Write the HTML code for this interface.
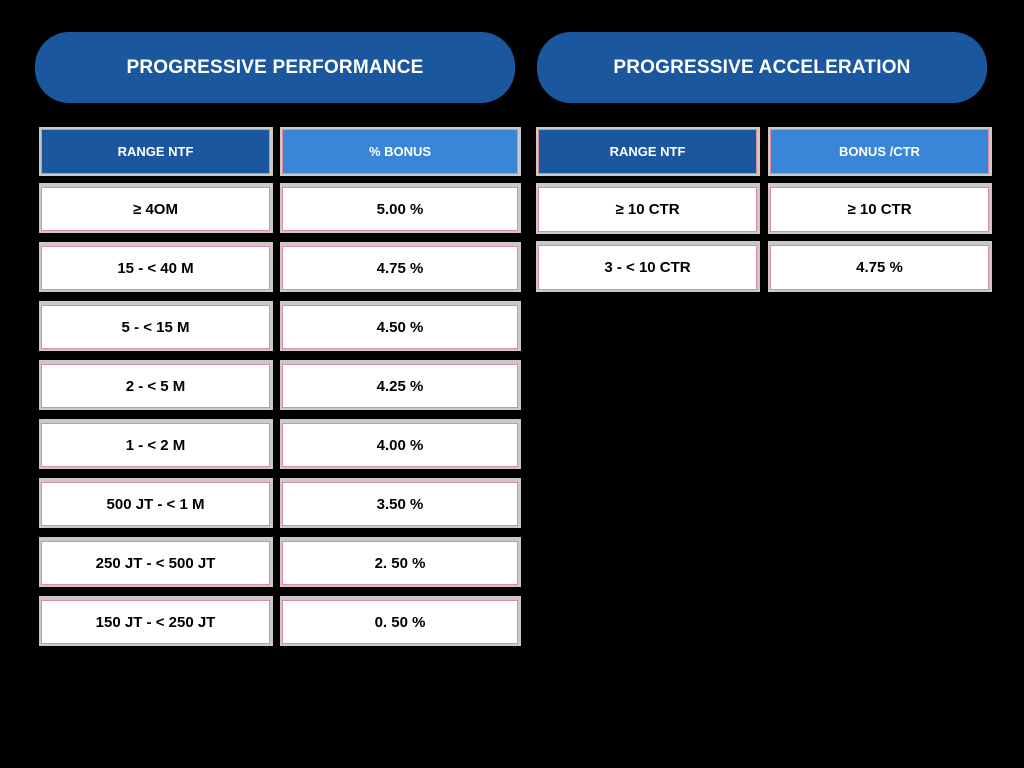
<!DOCTYPE html>
<html><head><meta charset="utf-8"><style>
body{margin:0;width:1024px;height:768px;background:#000;position:relative;overflow:hidden;font-family:"Liberation Sans",sans-serif;}
.pill{position:absolute;background:#1b579f;border-radius:34px;color:#fff;font-weight:bold;font-size:19px;display:flex;align-items:center;justify-content:center;letter-spacing:0.2px;}
.cell{position:absolute;background:#c9c9c9;}
.inner{position:absolute;left:2px;right:3px;top:4px;bottom:2px;background:#fff;border:1px solid #e08aa0;box-sizing:border-box;display:flex;align-items:center;justify-content:center;font-weight:bold;font-size:15px;color:#000;}
.hd .inner{color:#fff;font-size:13px;top:2px;bottom:2px;}
.dark .inner{background:#1b579f;}
.light .inner{background:#3a86d6;}
</style></head><body>
<div class="pill" style="left:35px;top:32px;width:480px;height:71px;">PROGRESSIVE PERFORMANCE</div>
<div class="pill" style="left:537px;top:32px;width:450px;height:71px;">PROGRESSIVE ACCELERATION</div>
<div id="root"></div>
<script>
const perfRanges=["≥ 4OM","15 - < 40 M","5 - < 15 M","2 - < 5 M","1 - < 2 M","500 JT - < 1 M","250 JT - < 500 JT","150 JT - < 250 JT"];
const perfBonus=["5.00 %","4.75 %","4.50 %","4.25 %","4.00 %","3.50 %","2. 50 %","0. 50 %"];
const accRanges=["≥ 10  CTR","3 - < 10 CTR"];
const accBonus=["≥ 10 CTR","4.75 %"];
const root=document.getElementById('root');
function cell(x,y,w,h,text,cls,name){
  const d=document.createElement('div');
  d.className='cell '+(cls||'');
  d.style.left=x+'px';d.style.top=y+'px';d.style.width=w+'px';d.style.height=h+'px';
  
  
  const i=document.createElement('div');i.className='inner';i.textContent=text;
  d.appendChild(i);root.appendChild(d);
}
cell(39,127,234,49,'RANGE NTF','hd dark','perf-range-header');
cell(280,127,241,49,'% BONUS','hd light','perf-bonus-header');
perfRanges.forEach((t,i)=>{
  cell(39,183+59*i,234,50,t,'','perf-range-cell');
  cell(280,183+59*i,241,50,perfBonus[i],'','perf-bonus-cell');
});
cell(536,127,224,49,'RANGE NTF','hd dark','acc-range-header');
cell(768,127,224,49,'BONUS /CTR','hd light','acc-bonus-header');
accRanges.forEach((t,i)=>{
  cell(536,183+58*i,224,51,t,'','acc-range-cell');
  cell(768,183+58*i,224,51,accBonus[i],'','acc-bonus-cell');
});
</script>
</body></html>
